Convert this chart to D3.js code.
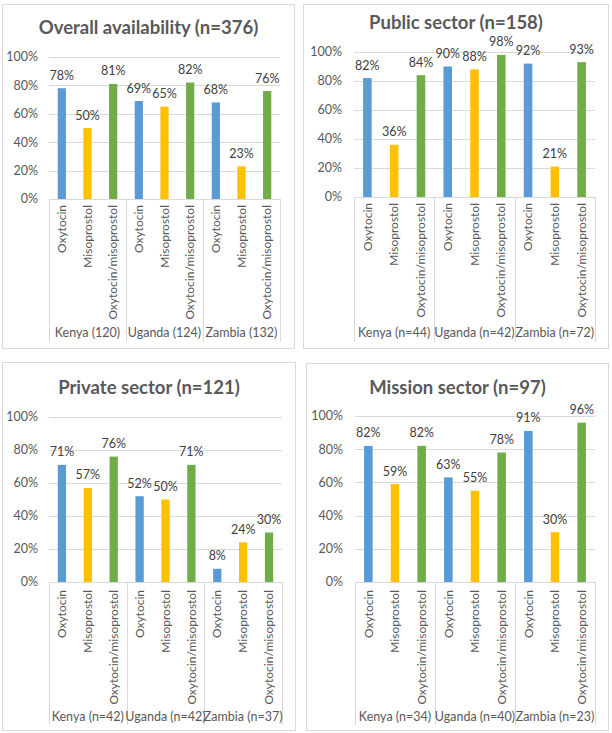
<!DOCTYPE html>
<html><head><meta charset="utf-8">
<script src="https://cdn.jsdelivr.net/npm/d3@7"></script>
<style>
html,body{margin:0;padding:0;background:#fff;}
svg{display:block;font-family:Lato, "Open Sans", sans-serif;}
</style></head>
<body>
<script>
const drugs = ["Oxytocin", "Misoprostol", "Oxytocin/misoprostol"];
const countries = ["Kenya", "Uganda", "Zambia"];
const yTicks = [0, 20, 40, 60, 80, 100];

const titles = ["Overall availability (n=376)", "Public sector (n=158)", "Private sector (n=121)", "Mission sector (n=97)"];
const groupLabels = [
  ["Kenya (120)", "Uganda (124)", "Zambia (132)"],
  ["Kenya (n=44)", "Uganda (n=42)", "Zambia (n=72)"],
  ["Kenya (n=42)", "Uganda (n=42)", "Zambia (n=37)"],
  ["Kenya (n=34)", "Uganda (n=40)", "Zambia (n=23)"]
];
// values per country: [Oxytocin, Misoprostol, Oxytocin/misoprostol]
const overallValues = [[78, 50, 81], [69, 65, 82], [68, 23, 76]];
const publicValues  = [[82, 36, 84], [90, 88, 98], [92, 21, 93]];
const privateValues = [[71, 57, 76], [52, 50, 71], [8, 24, 30]];
const missionValues = [[82, 59, 82], [63, 55, 78], [91, 30, 96]];
const allValues = [overallValues, publicValues, privateValues, missionValues];

const colors = ["#5B9BD5", "#FFC000", "#70AD47"];

const layouts = [
  {bx:2.5, by:4.5, bw:292, bh:344, titleY:28, x0:49, x1:280, y100:57, y0:199, catTop:205, groupY:333, sepBottom:342, tickX:38},
  {bx:303.5, by:4.5, bw:305, bh:344, titleY:23, x0:354, x1:595, y100:52, y0:197, catTop:203, groupY:333, sepBottom:342, tickX:342},
  {bx:2.5, by:362.5, bw:293, bh:368, titleY:388, x0:49, x1:282, y100:417, y0:582, catTop:590, groupY:717, sepBottom:725, tickX:38},
  {bx:306.5, by:363.5, bw:302, bh:367, titleY:388, x0:355, x1:595, y100:416, y0:582, catTop:590, groupY:717, sepBottom:725, tickX:343}
];

const svg = d3.select("body").append("svg").attr("width", 612).attr("height", 733);

layouts.forEach((L, pi) => {
  const g = svg.append("g");
  const vals = allValues[pi];
  g.append("rect").attr("x", L.bx).attr("y", L.by).attr("width", L.bw).attr("height", L.bh)
    .attr("fill", "#fff").attr("stroke", "#D9D9D9").attr("stroke-width", 1);

  g.append("text").attr("x", L.bx + L.bw / 2).attr("y", L.titleY).attr("dy", "0.35em")
    .attr("text-anchor", "middle").attr("font-weight", "bold").attr("font-size", 18.5)
    .attr("fill", "#595959").text(titles[pi]);

  const y = d3.scaleLinear().domain([0, 100]).range([L.y0, L.y100]);
  const flat = [];
  countries.forEach((c, ci) => drugs.forEach((d, di) => flat.push({key: c + "|" + d, c: ci, d: di, v: vals[ci][di]})));
  const x = d3.scaleBand().domain(flat.map(f => f.key)).range([L.x0, L.x1]).paddingInner(0.68).paddingOuter(0.34);
  const xg = d3.scaleBand().domain(countries).range([L.x0, L.x1]);

  // gridlines
  g.append("g").selectAll("line").data(yTicks).join("line")
    .attr("x1", L.x0).attr("x2", L.x1)
    .attr("y1", d => Math.round(y(d)) + 0.5).attr("y2", d => Math.round(y(d)) + 0.5)
    .attr("stroke", "#D9D9D9").attr("stroke-width", 1);

  // y tick labels
  g.append("g").selectAll("text").data(yTicks).join("text")
    .attr("x", L.tickX).attr("y", d => y(d)).attr("dy", "0.35em")
    .attr("text-anchor", "end").attr("font-size", 12.5).attr("fill", "#595959")
    .text(d => d + "%");

  // bars
  g.append("g").selectAll("rect").data(flat).join("rect")
    .attr("x", d => x(d.key)).attr("width", x.bandwidth())
    .attr("y", d => y(d.v)).attr("height", d => y(0) - y(d.v))
    .attr("fill", d => colors[d.d]);

  // data labels
  g.append("g").selectAll("text").data(flat).join("text")
    .attr("x", d => x(d.key) + x.bandwidth() / 2).attr("y", d => y(d.v) - 8.5)
    .attr("text-anchor", "middle").attr("font-size", 12.5).attr("fill", "#404040")
    .text(d => d.v + "%");

  // group separators
  const seps = countries.map(c => xg(c)).concat([L.x1]);
  g.append("g").selectAll("line").data(seps).join("line")
    .attr("x1", d => Math.round(d) + 0.5).attr("x2", d => Math.round(d) + 0.5)
    .attr("y1", L.y0).attr("y2", L.sepBottom)
    .attr("stroke", "#D9D9D9").attr("stroke-width", 1);

  // rotated category labels
  g.append("g").selectAll("text").data(flat).join("text")
    .attr("transform", d => `translate(${x(d.key) + x.bandwidth() / 2},${L.catTop}) rotate(-90)`)
    .attr("dy", "0.35em").attr("text-anchor", "end").attr("font-size", 12).attr("fill", "#595959")
    .text(d => drugs[d.d]);

  // group labels
  g.append("g").selectAll("text").data(countries).join("text")
    .attr("x", c => xg(c) + xg.bandwidth() / 2).attr("y", L.groupY).attr("dy", "0.35em")
    .attr("text-anchor", "middle").attr("font-size", 12.5).attr("fill", "#595959")
    .text((c, i) => groupLabels[pi][i]);
});
</script>
</body></html>
